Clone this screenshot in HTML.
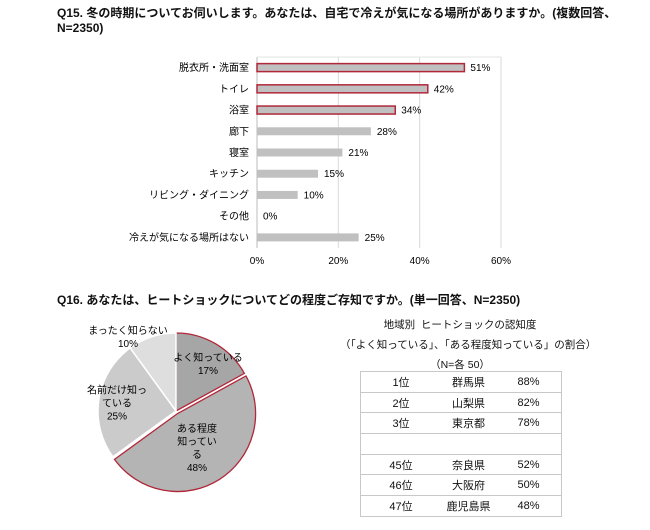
<!DOCTYPE html>
<html><head><meta charset="utf-8"><style>
body{margin:0;width:650px;height:522px;background:#fff;font-family:"Liberation Sans","Noto Sans CJK JP",sans-serif;color:#111;position:relative;overflow:hidden}
.t{position:absolute;white-space:nowrap}
</style></head><body>
<div class="t" style="left:57px;top:6px;font-size:12px;line-height:15px;font-weight:bold">Q15. 冬の時期についてお伺いします。あなたは、自宅で冷えが気になる場所がありますか。(複数回答、<br>N=2350)</div>
<svg id="bar" width="650" height="280" style="position:absolute;left:0;top:0" font-family="Liberation Sans, Noto Sans CJK JP, sans-serif" font-size="10"></svg>
<div class="t" style="left:57px;top:291px;font-size:12px;font-weight:bold">Q16. あなたは、ヒートショックについてどの程度ご存知ですか。(単一回答、N=2350)</div>
<svg id="pie" width="300" height="230" style="position:absolute;left:0;top:300px" font-family="Liberation Sans, Noto Sans CJK JP, sans-serif" font-size="10"></svg>
<div class="t" style="left:340px;top:315px;width:240px;text-align:center;font-size:10.5px;line-height:20px">地域別&nbsp; ヒートショックの認知度<br>（「よく知っている」、「ある程度知っている」の割合）<br>（N=各 50）</div>
<table style="position:absolute;left:360px;top:371px;width:202px;border-collapse:collapse;font-size:11px">
<tbody id="tb"></tbody></table>
<script>
const categories=["脱衣所・洗面室","トイレ","浴室","廊下","寝室","キッチン","リビング・ダイニング","その他","冷えが気になる場所はない"];
const values=[51,42,34,28,21,15,10,0,25];
const highlighted=[true,true,true,false,false,false,false,false,false];
const ticks=[0,20,40,60];
const pieLabels=[["よく知っている","17%"],["ある程度","知ってい","る","48%"],["名前だけ知っ","ている","25%"],["まったく知らない","10%"]];
const pieValues=[17,48,25,10];
const ranks=["1位","2位","3位","","45位","46位","47位"];
const prefs=["群馬県","山梨県","東京都","","奈良県","大阪府","鹿児島県"];
const pcts=["88%","82%","78%","","52%","50%","48%"];
(function(){
const NS="http://www.w3.org/2000/svg";
function mk(p,tag,a){const e=document.createElementNS(NS,tag);for(const k in a)e.setAttribute(k,a[k]);p.appendChild(e);return e;}
const bar=document.getElementById('bar');
const x0=257,x1=501,pTop=57,pBot=248;
const xs=v=>x0+(v/60)*(x1-x0);
const band=(pBot-pTop)/categories.length;
ticks.forEach(t=>{
 const l=mk(bar,'line',{x1:xs(t),x2:xs(t),y1:pTop,y2:pBot,stroke:t===0?'#bbb':'#d9d9d9','stroke-width':1});
 
 
 const tx=mk(bar,'text',{x:xs(t),y:264,'text-anchor':'middle'});tx.textContent=t+'%';
 
 
});
mk(bar,'line',{x1:x0,x2:x1,y1:pTop,y2:pTop,stroke:'#e3e3e3'});
categories.forEach((c,i)=>{
 const cy=pTop+band*(i+0.5);
 const r=mk(bar,'rect',{x:x0,y:cy-4,width:Math.max(xs(values[i])-x0,0.5),height:8,fill:'#c0c0c0',stroke:highlighted[i]?'#b0283a':'none','stroke-width':1.5});
 
 
 const lb=mk(bar,'text',{x:x0-8,y:cy+3.5,'text-anchor':'end'});lb.textContent=c;
 
 
 const vl=mk(bar,'text',{x:xs(values[i])+6,y:cy+3.5});vl.textContent=values[i]+'%';
 
 
});
const pieColors=['#a6a6a6','#b4b4b4','#cbcbcb','#dedede'];
const pieRed=[true,true,false,false];
const explode=[0,3,0,0];
// label anchor as [dx, dy] from pie centre (layout only)
const labelOff=[[32,-47],[21,37],[-59,-8],[-48,-74]];
const pie=document.getElementById('pie');
const cx=176,cy=111,R=78;
let a=0;const tot=pieValues.reduce((s,v)=>s+v,0);
pieValues.forEach((v,i)=>{
 const a0=a,a1=a+v/tot*2*Math.PI;a=a1;const am=(a0+a1)/2;
 const ox=Math.sin(am)*explode[i],oy=-Math.cos(am)*explode[i];
 const p=(ang,r)=>[cx+ox+Math.sin(ang)*r,cy+oy-Math.cos(ang)*r];
 const s=p(a0,R),e=p(a1,R);
 const d=`M${cx+ox},${cy+oy}L${s[0]},${s[1]}A${R},${R} 0 ${a1-a0>Math.PI?1:0} 1 ${e[0]},${e[1]}Z`;
 const path=mk(pie,'path',{d,fill:pieColors[i],stroke:pieRed[i]?'#b0283a':'#fff','stroke-width':pieRed[i]?1.3:1.5});
 
 
});
pieLabels.forEach((lines,i)=>{
 const n=lines.length;
 lines.forEach((t,j)=>{
  const tx=mk(pie,'text',{x:cx+labelOff[i][0],y:cy+labelOff[i][1]+(j-(n-1)/2)*13+3.5,'text-anchor':'middle'});tx.textContent=t;
  
  
 });
});
const tb=document.getElementById('tb');
ranks.forEach((r,i)=>{
 const tr=document.createElement('tr');
 
 
 [r,prefs[i],pcts[i]].forEach((t,j)=>{
  const td=document.createElement('td');td.textContent=t;
  td.style.cssText='height:19.7px;padding:0;text-align:center;border:1px solid #c8c8c8;'+(j===0?'border-right:none;width:80px;':j===1?'border-left:none;border-right:none;width:55px;':'border-left:none;');
  tr.appendChild(td);
 });
 tb.appendChild(tr);
});
})();
</script>
</body></html>
